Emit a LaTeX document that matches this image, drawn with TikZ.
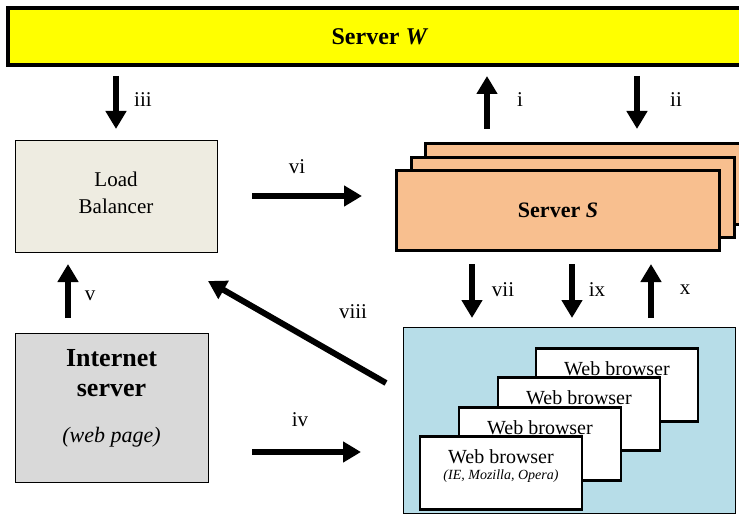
\documentclass[tikz,border=0pt]{standalone}
\usepackage{fontspec}
\setmainfont{Liberation Serif}
\usetikzlibrary{arrows.meta,positioning}
\definecolor{wyellow}{HTML}{FFFF00}
\definecolor{speach}{HTML}{F8BF8F}
\definecolor{lbbeige}{HTML}{EEECE1}
\definecolor{isgray}{HTML}{D9D9D9}
\definecolor{wbblue}{HTML}{B7DDE8}
\begin{document}
\begin{tikzpicture}[x=1pt,y=-1pt,
  font=\fontsize{21}{25}\selectfont,
  box/.style={draw,rectangle,line width=1pt,inner sep=0pt},
  thickbox/.style={draw,rectangle,line width=3.5pt,inner sep=0pt},
  srvbox/.style={thickbox,line width=3pt,fill=speach,minimum width=323,minimum height=80},
  brbox/.style={draw,rectangle,line width=2.5pt,fill=white,inner sep=0pt,minimum width=162,minimum height=73},
  flow/.style={line width=6pt,-{Triangle[width=20pt,length=18pt]}}]
  \useasboundingbox (0,0) rectangle (739,516);
  % servers
  \node[thickbox,fill=wyellow,minimum width=744,minimum height=57,
        font=\bfseries\fontsize{24}{28}\selectfont] (w) at (380,36.5) {Server \textit{W}};
  \node[srvbox] (s3) at (586.5,184) {};
  \node[srvbox] (s2) at (572.5,197.5) {};
  \node[srvbox,font=\bfseries\fontsize{22}{26}\selectfont] (s1) at (558,210.5) {Server \textit{S}};
  % load balancer
  \node[box,fill=lbbeige,minimum width=202,minimum height=111] (lb) at (116,196.5) {};
  \node[align=center,yshift=4pt,font=\fontsize{21}{27}\selectfont] (lbtext) at (lb) {Load\\Balancer};
  % internet server
  \node[box,fill=isgray,minimum width=193,minimum height=149] (is) at (111.5,407.5) {};
  \node[align=center,yshift=34pt,font=\bfseries\fontsize{26}{30}\selectfont] (istext) at (is) {Internet\\server};
  \node[yshift=-29.5pt,font=\itshape\fontsize{22}{26}\selectfont] (ispage) at (is) {(web page)};
  % web browsers
  \node[box,fill=wbblue,minimum width=332,minimum height=186] (wb) at (569,420) {};
  \node[brbox] (br4) at (617,385) {};
  \node[yshift=16.5pt,font=\fontsize{20}{24}\selectfont] (br4text) at (br4) {Web browser};
  \node[brbox] (br3) at (579,414) {};
  \node[yshift=16.5pt,font=\fontsize{20}{24}\selectfont] (br3text) at (br3) {Web browser};
  \node[brbox] (br2) at (540,444) {};
  \node[yshift=16.5pt,font=\fontsize{20}{24}\selectfont] (br2text) at (br2) {Web browser};
  \node[brbox] (br1) at (501,473) {};
  \node[yshift=16pt,font=\fontsize{20}{24}\selectfont] (br1text) at (br1) {Web browser};
  \node[yshift=-3pt,font=\itshape\fontsize{14}{17}\selectfont] (br1kind) at (br1) {(IE, Mozilla, Opera)};
  % arrow ends
  \coordinate (it) at (487,129);  \coordinate (ih) at (487,76);
  \coordinate (iit) at (637,76);  \coordinate (iih) at (637,129);
  \coordinate (iiit) at (116,76); \coordinate (iiih) at (116,129);
  \coordinate (ivt) at (252,452); \coordinate (ivh) at (361,452);
  \coordinate (vt) at (68,318);   \coordinate (vh) at (68,264);
  \coordinate (vit) at (252,196); \coordinate (vih) at (362,196);
  \coordinate (viit) at (472,264); \coordinate (viih) at (472,318);
  \coordinate (viiit) at (386,383); \coordinate (viiih) at (208,281);
  \coordinate (ixt) at (572,264); \coordinate (ixh) at (572,318);
  \coordinate (xt) at (651,318);  \coordinate (xh) at (651,264);
  % arrows
  \draw[flow] (it) -- (ih);
  \draw[flow] (iit) -- (iih);
  \draw[flow] (iiit) -- (iiih);
  \draw[flow] (ivt) -- (ivh);
  \draw[flow] (vt) -- (vh);
  \draw[flow] (vit) -- (vih);
  \draw[flow] (viit) -- (viih);
  \draw[flow] (viiit) -- (viiih);
  \draw[flow] (ixt) -- (ixh);
  \draw[flow] (xt) -- (xh);
  % labels
  \node (li) at (520,100) {i};
  \node (lii) at (676,100) {ii};
  \node (liii) at (143,100) {iii};
  \node (liv) at (300,420) {iv};
  \node (lv) at (90,296) {v};
  \node (lvi) at (297,167) {vi};
  \node (lvii) at (503,290) {vii};
  \node (lviii) at (353,312) {viii};
  \node (lix) at (597,290) {ix};
  \node (lx) at (685,290) {x};
\end{tikzpicture}
\end{document}
